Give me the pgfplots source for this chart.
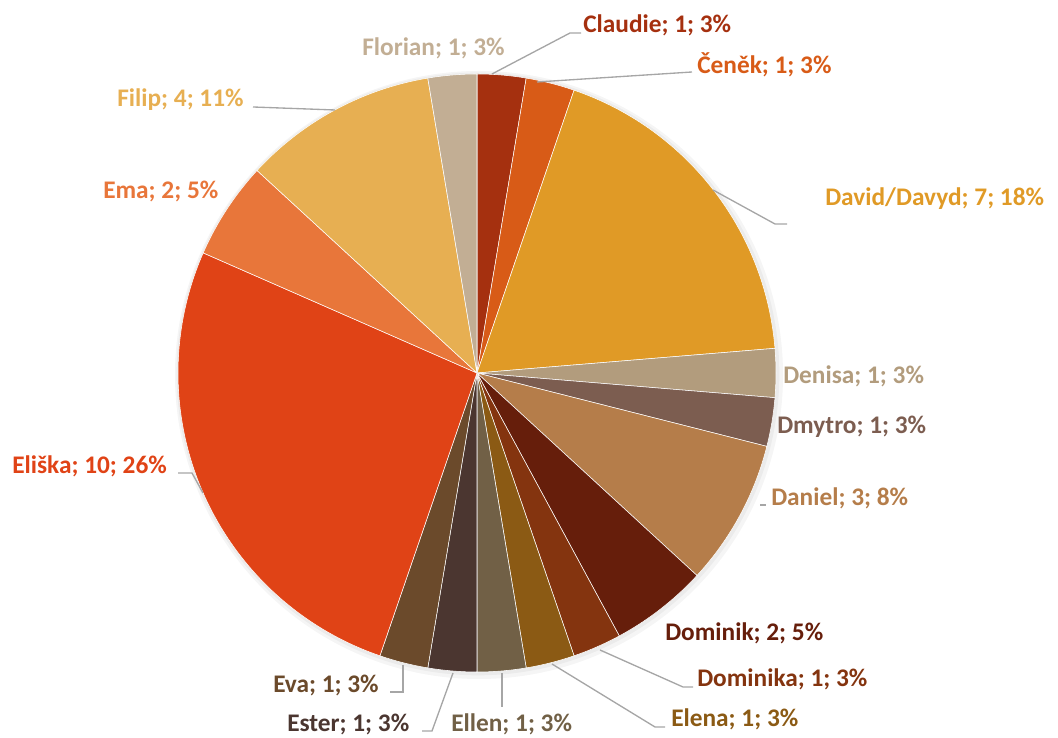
\documentclass[border=0pt]{standalone}
\usepackage{pgfplots}
\pgfplotsset{compat=1.18}
\usepackage{fontspec}
\setmainfont{Carlito}

\definecolor{cClaudie}{RGB}{165,48,15}
\definecolor{cCenek}{RGB}{216,91,23}
\definecolor{cDavid}{RGB}{224,154,38}
\definecolor{cDenisa}{RGB}{178,156,125}
\definecolor{cDmytro}{RGB}{124,93,80}
\definecolor{cDaniel}{RGB}{181,125,74}
\definecolor{cDominik}{RGB}{102,30,11}
\definecolor{cDominika}{RGB}{132,52,15}
\definecolor{cElena}{RGB}{139,90,20}
\definecolor{cEllen}{RGB}{113,96,70}
\definecolor{cEster}{RGB}{75,54,48}
\definecolor{cEva}{RGB}{107,74,43}
\definecolor{cEliska}{RGB}{224,67,22}
\definecolor{cEma}{RGB}{232,118,58}
\definecolor{cFilip}{RGB}{231,175,82}
\definecolor{cFlorian}{RGB}{194,174,148}
\definecolor{leader}{RGB}{166,166,166}

\begin{document}
\begin{tikzpicture}
\begin{axis}[
    width=793.5pt, height=553.5pt,
    scale only axis,
    xmin=0, xmax=1058, ymin=0, ymax=738,
    hide axis, clip=false,
]
\path (axis cs:0,0) rectangle (axis cs:1058,738);
% soft shadow
\fill[black, opacity=0.04] (axis cs:479,363) circle[radius=228pt];
\fill[black, opacity=0.04] (axis cs:478,364) circle[radius=226pt];
% slices: value/colour, clockwise from 12 o'clock, total 38
\gdef\angA{90}
\foreach \v/\col in {1/cClaudie, 1/cCenek, 7/cDavid, 1/cDenisa, 1/cDmytro,
    3/cDaniel, 2/cDominik, 1/cDominika, 1/cElena, 1/cEllen, 1/cEster,
    1/cEva, 10/cEliska, 2/cEma, 4/cFilip, 1/cFlorian}{
  \pgfmathsetmacro\angB{\angA-\v*360/38}
  \edef\temp{\noexpand\fill[\col, draw=white, line width=0.4pt]
    (axis cs:477,365) -- ++(\angA:224.25pt)
    arc[start angle=\angA, end angle=\angB, radius=224.25pt] -- cycle;}
  \temp
  \xdef\angA{\angB}
}
% leader lines
\begin{scope}[leader, line width=1pt]
\draw (axis cs:492,664) -- (axis cs:570,705) -- (axis cs:581,705);
\draw (axis cs:537,656) -- (axis cs:692,666);
\draw (axis cs:713,548) -- (axis cs:775,514) -- (axis cs:787,514);
\draw (axis cs:760,233) -- (axis cs:766,233);
\draw (axis cs:600,88) -- (axis cs:683,51) -- (axis cs:693,51);
\draw (axis cs:552,74) -- (axis cs:655,11) -- (axis cs:665,11);
\draw (axis cs:502,65) -- (axis cs:502,31);
\draw (axis cs:453,65) -- (axis cs:432,7) -- (axis cs:422,7);
\draw (axis cs:403,73) -- (axis cs:403,46) -- (axis cs:390,46);
\draw (axis cs:203,245) -- (axis cs:192,265) -- (axis cs:178,265);
\draw (axis cs:335,628) -- (axis cs:253,631);
\end{scope}
% labels
\begin{scope}[font=\fontsize{19}{21}\selectfont\bfseries, inner sep=0pt, anchor=base west]
\node[text=cClaudie] at (axis cs:583,705) {Claudie; 1; 3\%};
\node[text=cCenek] at (axis cs:697,664) {Čeněk; 1; 3\%};
\node[text=cDavid] at (axis cs:825,532) {David/Davyd; 7; 18\%};
\node[text=cDenisa] at (axis cs:783,354) {Denisa; 1; 3\%};
\node[text=cDmytro] at (axis cs:777,304) {Dmytro; 1; 3\%};
\node[text=cDaniel] at (axis cs:771,232) {Daniel; 3; 8\%};
\node[text=cDominik] at (axis cs:665,97) {Dominik; 2; 5\%};
\node[text=cDominika] at (axis cs:697,51) {Dominika; 1; 3\%};
\node[text=cElena] at (axis cs:671,11) {Elena; 1; 3\%};
\node[text=cEllen] at (axis cs:451,6) {Ellen; 1; 3\%};
\node[text=cEster] at (axis cs:287,6) {Ester; 1; 3\%};
\node[text=cEva] at (axis cs:273,45) {Eva; 1; 3\%};
\node[text=cEliska] at (axis cs:12,264) {Eliška; 10; 26\%};
\node[text=cEma] at (axis cs:103,539) {Ema; 2; 5\%};
\node[text=cFilip] at (axis cs:117,631) {Filip; 4; 11\%};
\node[text=cFlorian] at (axis cs:362,682) {Florian; 1; 3\%};
\end{scope}
\end{axis}
\end{tikzpicture}
\end{document}
